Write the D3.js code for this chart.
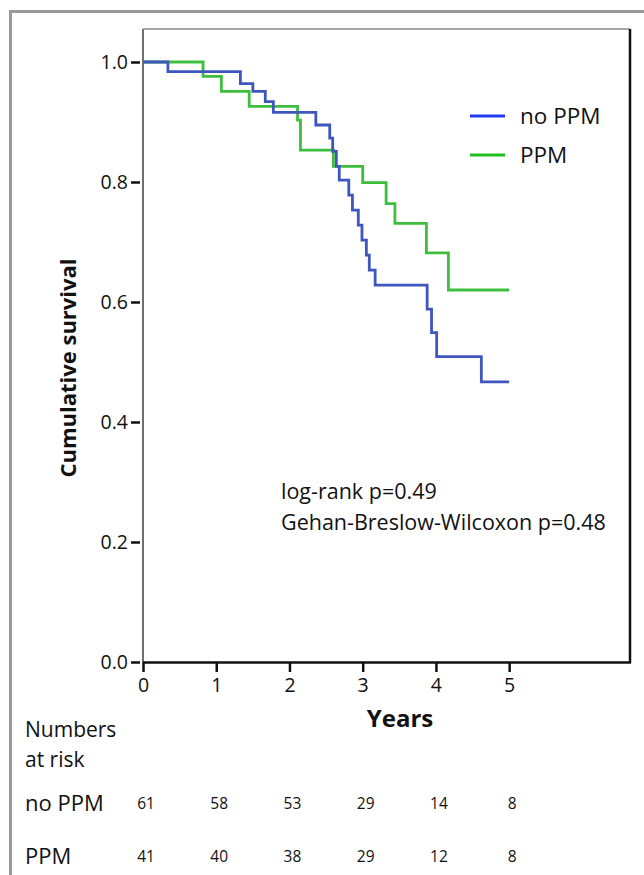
<!DOCTYPE html>
<html>
<head>
<meta charset="utf-8">
<script src="https://cdn.jsdelivr.net/npm/d3@7"></script>
<style>
  body { margin: 0; background: #fff; }
  svg { display: block; font-family: "Open Sans", sans-serif; }
</style>
</head>
<body>
<div id="chart"></div>
<script>
// Kaplan-Meier steps
const noPpmTimes = [0, 0.34, 1.33, 1.50, 1.67, 1.78, 2.36, 2.55, 2.59, 2.64, 2.68, 2.81, 2.86, 2.94, 2.99, 3.05, 3.09, 3.17, 3.88, 3.94, 4.01, 4.62, 5.0];
const noPpmSurv  = [1, 0.984, 0.964, 0.951, 0.934, 0.916, 0.895, 0.873, 0.851, 0.826, 0.803, 0.778, 0.753, 0.728, 0.703, 0.678, 0.653, 0.628, 0.588, 0.549, 0.509, 0.467, 0.467];
const ppmTimes = [0, 0.82, 1.07, 1.45, 2.11, 2.15, 2.60, 3.00, 3.32, 3.44, 3.87, 4.17, 5.0];
const ppmSurv  = [1, 0.976, 0.951, 0.926, 0.903, 0.853, 0.826, 0.799, 0.764, 0.731, 0.682, 0.62, 0.62];

const xTicks = [0, 1, 2, 3, 4, 5];
const yTicks = [0, 0.2, 0.4, 0.6, 0.8, 1.0];
const groups = ['no PPM', 'PPM'];
const atRiskNoPpm = [61, 58, 53, 29, 14, 8];
const atRiskPpm   = [41, 40, 38, 29, 12, 8];
const pTexts = ['log-rank p=0.49', 'Gehan-Breslow-Wilcoxon p=0.48'];

const W = 644, H = 875;
const plotLeft = 143, plotRight = 630, plotTop = 62, plotBottom = 662, boxTop = 29;

const svg = d3.select('#chart').append('svg')
    .attr('width', W)
    .attr('height', H);

// outer frame (only top and left visible)
svg.append('path')
    .attr('d', `M10.5,${H} V11.5 H${W}`)
    .attr('fill', 'none')
    .attr('stroke', '#9a9a9a')
    .attr('stroke-width', 3);

const x = d3.scaleLinear().domain([0, 6.65]).range([plotLeft, plotRight]);
const y = d3.scaleLinear().domain([0, 1]).range([plotBottom, plotTop]);

// plot box: gray top/left, black right/bottom
svg.append('line')
    .attr('x1', plotLeft).attr('x2', plotRight).attr('y1', boxTop).attr('y2', boxTop)
    .attr('stroke', '#8a8a8a').attr('stroke-width', 1.5);
svg.append('line')
    .attr('x1', plotLeft).attr('x2', plotLeft).attr('y1', boxTop).attr('y2', plotBottom)
    .attr('stroke', '#707070').attr('stroke-width', 2);
svg.append('line')
    .attr('x1', plotRight).attr('x2', plotRight).attr('y1', boxTop).attr('y2', plotBottom + 1)
    .attr('stroke', '#111').attr('stroke-width', 2.5);

// y axis
const yAxis = svg.append('g')
    .attr('transform', `translate(${plotLeft - 3},0)`)
    .call(d3.axisLeft(y).tickValues(yTicks).tickFormat(d3.format('.1f')).tickSize(9).tickPadding(3));
yAxis.select('.domain').remove();
yAxis.selectAll('.tick line').attr('stroke', '#111').attr('stroke-width', 2.5);
yAxis.selectAll('.tick text')
    .attr('font-size', 19.5).attr('fill', '#111')
    .attr('font-family', '"Open Sans", sans-serif');

// x axis
const xAxis = svg.append('g')
    .attr('transform', `translate(0,${plotBottom})`)
    .call(d3.axisBottom(x).tickValues(xTicks).tickFormat(d3.format('d')).tickSize(10).tickPadding(6));
xAxis.select('.domain')
    .attr('d', `M${plotLeft},0.5H${plotRight + 1}`)
    .attr('stroke', '#111').attr('stroke-width', 2.5);
xAxis.selectAll('.tick line').attr('stroke', '#111').attr('stroke-width', 2.5);
xAxis.selectAll('.tick text')
    .attr('font-size', 19.5).attr('fill', '#111')
    .attr('font-family', '"Open Sans", sans-serif');

// axis titles
svg.append('text')
    .attr('transform', `translate(76,${(plotTop + plotBottom) / 2 + 6}) rotate(-90)`)
    .attr('text-anchor', 'middle')
    .attr('font-size', 22).attr('font-weight', 'bold').attr('fill', '#111')
    .text('Cumulative survival');
svg.append('text')
    .attr('x', 400).attr('y', 727)
    .attr('text-anchor', 'middle')
    .attr('font-size', 24).attr('font-weight', 'bold').attr('fill', '#111')
    .text('Years');

// survival curves
const step = d3.line()
    .x(d => x(d[0]))
    .y(d => y(d[1]))
    .curve(d3.curveStepAfter);

svg.append('path')
    .datum(d3.zip(ppmTimes, ppmSurv))
    .attr('d', step)
    .attr('fill', 'none')
    .attr('stroke', '#3dbf3d')
    .attr('stroke-width', 2.8);
svg.append('path')
    .datum(d3.zip(noPpmTimes, noPpmSurv))
    .attr('d', step)
    .attr('fill', 'none')
    .attr('stroke', '#3f56c0')
    .attr('stroke-width', 2.8);

// legend
const legendColors = ['#1f3cf0', '#22c022'];
groups.forEach((g, i) => {
    const ly = 116 + i * 39;
    svg.append('line')
        .attr('x1', 470).attr('x2', 505).attr('y1', ly).attr('y2', ly)
        .attr('stroke', legendColors[i]).attr('stroke-width', 3);
    svg.append('text')
        .attr('x', 520).attr('y', ly + 8)
        .attr('font-size', 22.5).attr('fill', '#111')
        .text(g);
});

// p-values
pTexts.forEach((t, i) => {
    svg.append('text')
        .attr('x', 281).attr('y', 499 + i * 31)
        .attr('font-size', 21.5).attr('fill', '#111')
        .text(t);
});

// numbers at risk table
svg.append('text').attr('x', 25).attr('y', 737)
    .attr('font-size', 21).attr('fill', '#111').text('Numbers');
svg.append('text').attr('x', 25).attr('y', 767)
    .attr('font-size', 21).attr('fill', '#111').text('at risk');

[atRiskNoPpm, atRiskPpm].forEach((row, i) => {
    const ry = 811 + i * 53;
    svg.append('text').attr('x', 25).attr('y', ry)
        .attr('font-size', 22).attr('fill', '#111').text(groups[i]);
    svg.selectAll(null)
        .data(row)
        .enter()
        .append('text')
        .attr('x', (d, j) => x(xTicks[j]) + 3)
        .attr('y', ry - 2)
        .attr('text-anchor', 'middle')
        .attr('font-size', 15.5)
        .attr('fill', '#111')
        .text(d => d);
});
</script>
</body>
</html>
